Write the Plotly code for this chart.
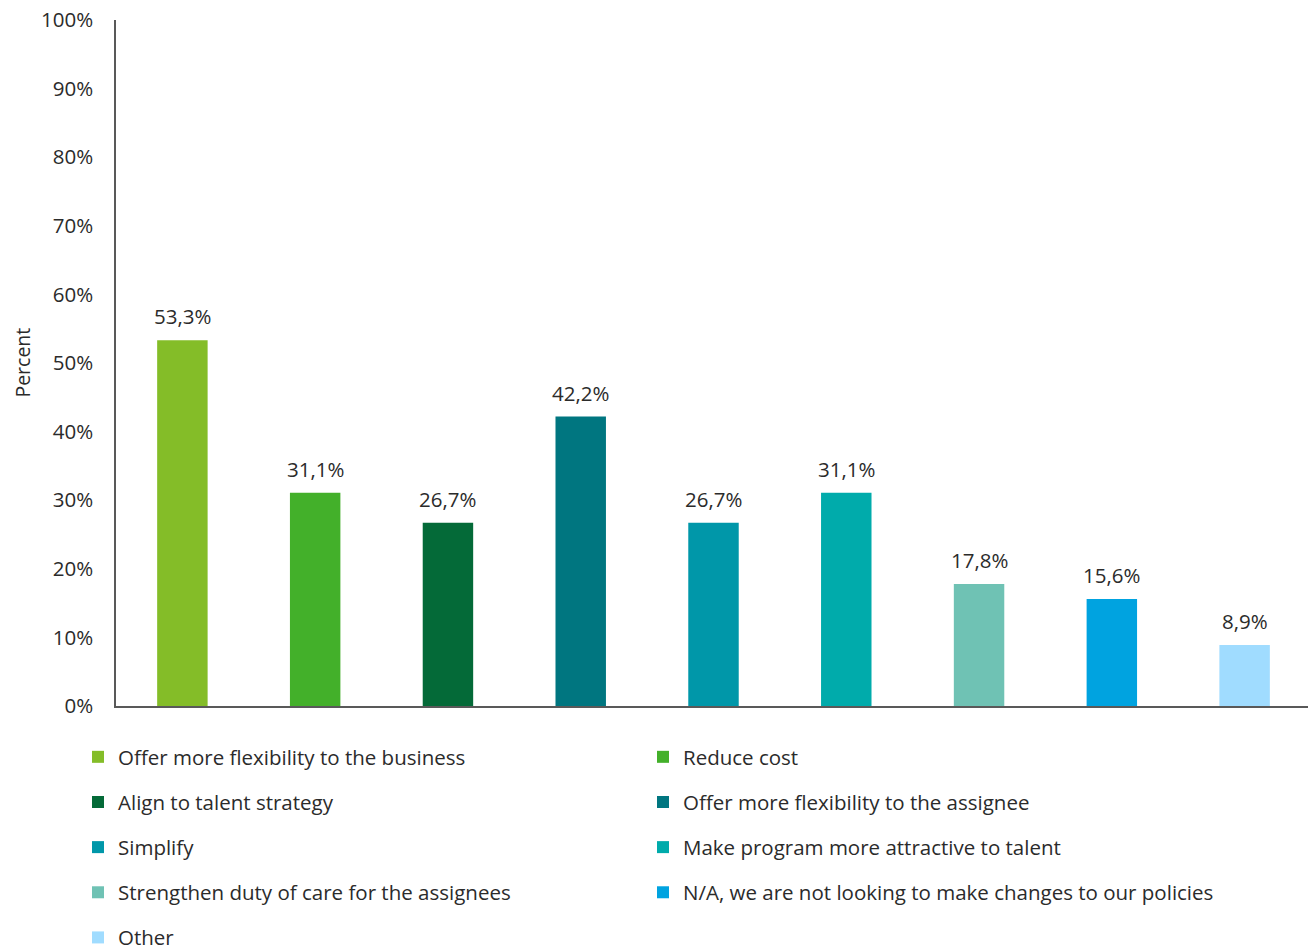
import plotly.graph_objects as go

categories = [
    "Offer more flexibility to the business",
    "Reduce cost",
    "Align to talent strategy",
    "Offer more flexibility to the assignee",
    "Simplify",
    "Make program more attractive to talent",
    "Strengthen duty of care for the assignees",
    "N/A, we are not looking to make changes to our policies",
    "Other",
]
values = [53.3, 31.1, 26.7, 42.2, 26.7, 31.1, 17.8, 15.6, 8.9]
colors = ["#84BD28", "#43B02A", "#046A38", "#007680", "#0097A9",
          "#00ABAB", "#6FC2B4", "#00A3E0", "#A0DCFF"]
y_ticks = list(range(0, 101, 10))

FONT = "Open Sans"
TXT = "#2b2b2b"
FS = 20.5
OFF = 8  # page body margin offset

fig = go.Figure()
for i, (cat, val, col) in enumerate(zip(categories, values, colors)):
    fig.add_trace(go.Bar(
        x=[cat], y=[val], name=cat,
        marker=dict(color=col, line=dict(width=0)),
        legend="legend" if i % 2 == 0 else "legend2",
        legendgroup=f"g{i}",
        width=0.38,
        hoverinfo="skip",
    ))
    fig.add_annotation(
        x=cat, y=val, xref="x", yref="y",
        text=f"{val:.1f}%".replace(".", ","),
        showarrow=False, yanchor="bottom", yshift=8,
        font=dict(family=FONT, size=FS, color=TXT),
    )

fig.add_annotation(
    text="Percent", textangle=-90, showarrow=False,
    xref="paper", yref="paper", x=-0.079, y=0.5,
    xanchor="center", yanchor="middle",
    font=dict(family=FONT, size=FS - 1, color=TXT),
)

legend_common = dict(
    font=dict(family=FONT, size=FS, color=TXT),
    xref="container", yref="container",
    yanchor="top", xanchor="left", orientation="v",
    tracegroupgap=15.5, bgcolor="rgba(0,0,0,0)",
    itemclick=False, itemdoubleclick=False,
)

W, H = 1316, 948
fig.update_layout(
    width=W, height=H,
    margin=dict(l=116 - OFF, r=W - (1311 - OFF), t=20 - OFF, b=H - (706 - OFF), autoexpand=False),
    paper_bgcolor="white", plot_bgcolor="white",
    barmode="overlay",
    showlegend=True,
    legend=dict(x=(78 - OFF) / W, y=1 - (737 - OFF) / H, **legend_common),
    legend2=dict(x=(643 - OFF) / W, y=1 - (737 - OFF) / H, **legend_common),
    xaxis=dict(
        categoryorder="array", categoryarray=categories,
        showticklabels=False, ticks="", showgrid=False,
        showline=True, linecolor="#595959", linewidth=1.5,
        zeroline=False,
    ),
    yaxis=dict(
        range=[0, 100], tickvals=y_ticks,
        ticktext=[f"{t}%" for t in y_ticks],
        showgrid=False, zeroline=False,
        showline=True, linecolor="#595959", linewidth=1.5,
        ticks="", ticklen=0, ticklabelstandoff=17,
        ticklabeloverflow="allow",
        tickfont=dict(family=FONT, size=FS, color=TXT),
    ),
)

fig.write_html("out.html")
